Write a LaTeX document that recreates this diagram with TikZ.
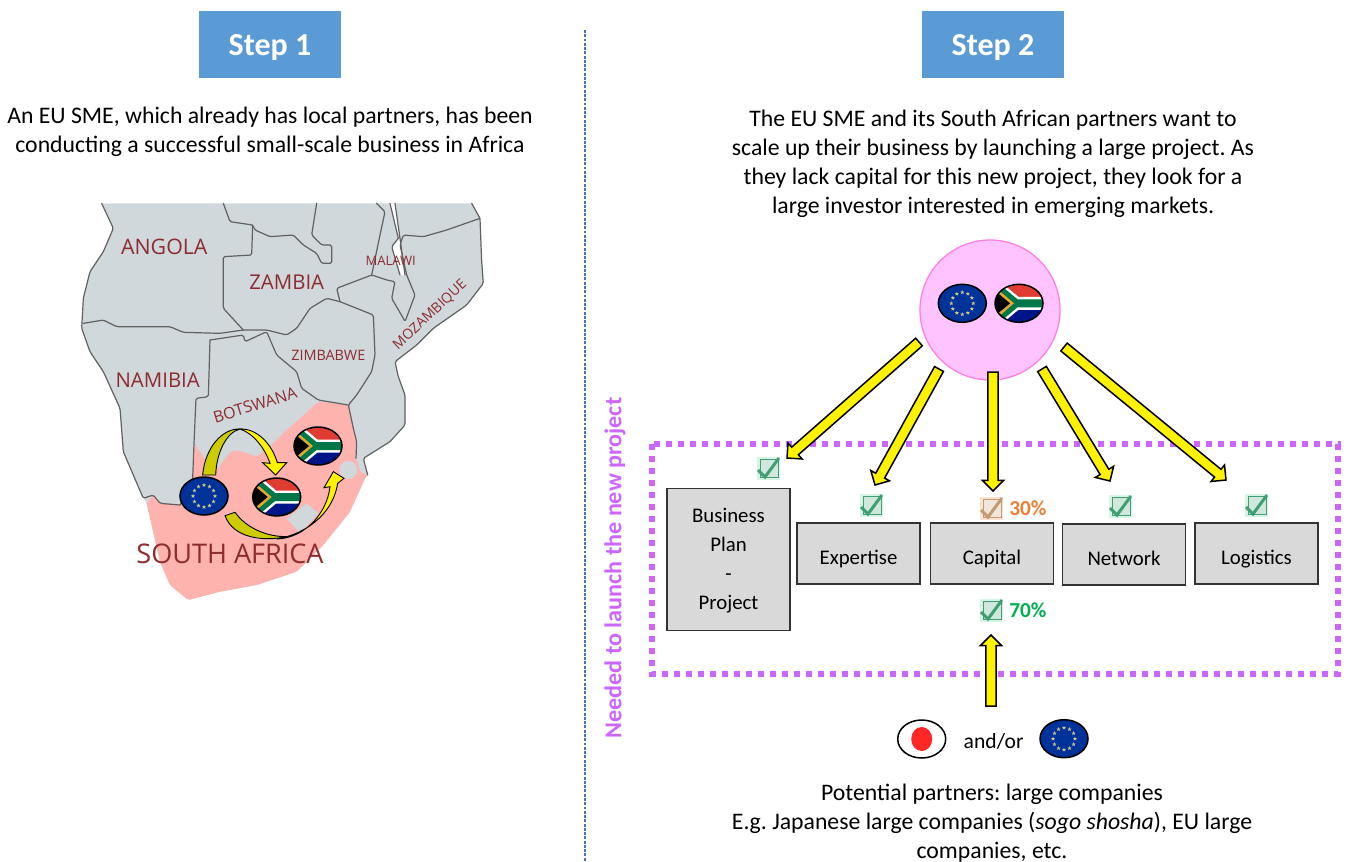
\documentclass[tikz,border=0pt]{standalone}
\usepackage{fontspec}
\setmainfont{Carlito}
\newfontfamily\mapfont{Open Sans}
\usetikzlibrary{calc,shapes.geometric}
\AtBeginDocument{\frenchspacing}
\definecolor{stepblue}{HTML}{5B9BD5}
\definecolor{violetdot}{HTML}{CC66FF}
\definecolor{landgray}{HTML}{D1D8DB}
\definecolor{zapink}{HTML}{FEB3AE}
\definecolor{maptext}{HTML}{8C2B30}
\definecolor{euBlue}{HTML}{003399}
\definecolor{euStar}{HTML}{CFC68A}
\definecolor{zaRed}{HTML}{E03C31}
\definecolor{zaBlue}{HTML}{001489}
\definecolor{zaGreen}{HTML}{007749}
\definecolor{zaGold}{HTML}{E0A82E}
\definecolor{darkyellow}{HTML}{CCCC00}
\definecolor{boxgray}{HTML}{D9D9D9}
\definecolor{poolfill}{HTML}{FFC4FF}
\definecolor{poolline}{HTML}{FF80E0}
\definecolor{okbg}{HTML}{D6F3E4}
\definecolor{okline}{HTML}{3F9F73}
\definecolor{warnbg}{HTML}{F9E2CF}
\definecolor{warnline}{HTML}{C49A70}
\definecolor{pctorange}{HTML}{ED7D31}
\definecolor{pctgreen}{HTML}{00B050}
\definecolor{divider}{HTML}{4472C4}
\newcommand{\lowered}[2]{\raisebox{-#1}[0pt][0pt]{#2}}
\tikzset{
  px/.style={line width=#1*0.75pt},
  stepbox/.style={fill=stepblue,text=white,font=\fontsize{24}{28}\selectfont\bfseries,minimum width=106.5pt,minimum height=50.25pt,inner sep=0pt},
  para/.style={align=center,font=\fontsize{17.8}{21.75}\selectfont,inner sep=0pt},
  needbox/.style={fill=boxgray,draw=black!80,px=1.6,minimum width=92.25pt,minimum height=45.75pt,inner sep=0pt,align=center,font=\fontsize{15.6}{21.75}\selectfont},
  pctlabel/.style={font=\fontsize{16}{19}\selectfont\bfseries,inner sep=0pt,anchor=west},
  flagbase/.style={ellipse,draw=black,px=1.5,minimum width=36pt,minimum height=28.5pt,inner sep=0pt},
  euflag/.style={flagbase,fill=euBlue,path picture={
    \begin{scope}[shift={(path picture bounding box.center)}]
      \foreach \ang in {0,30,...,330}{
        \fill[euStar] (\ang:11) ++(0,-2) -- ++(.6,1.4) -- ++(1.4,0) -- ++(-1.1,.9) -- ++(.4,1.5) -- ++(-1.3,-.9) -- ++(-1.3,.9) -- ++(.4,-1.5) -- ++(-1.1,-.9) -- ++(1.4,0) -- cycle;}
    \end{scope}}},
  zaflag/.style={flagbase,fill=white,path picture={
    \begin{scope}[shift={(path picture bounding box.center)}]
      \fill[zaRed] (-25,-20) rectangle (25,0);
      \fill[zaBlue] (-25,0) rectangle (25,20);
      \draw[white,px=13,line join=miter] (-28,-21) -- (-3,0) -- (-28,21) (-3,0) -- (26,0);
      \draw[zaGreen,px=8,line join=miter] (-28,-21) -- (-3,0) -- (-28,21) (-3,0) -- (26,0);
      \fill[zaGold] (-27,-19) -- (-5,0) -- (-27,19) -- cycle;
      \fill[black] (-27,-15) -- (-9,0) -- (-27,15) -- cycle;
    \end{scope}}},
  jpflag/.style={flagbase,fill=white,path picture={
    \fill[red!85!white] (path picture bounding box.center) ellipse[x radius=10.5,y radius=12];}},
  checkbox/.style 2 args={minimum size=17.25pt,inner sep=0pt,fill=#1,path picture={
    \begin{scope}[shift={(path picture bounding box.center)}]
      \fill[#2!25!white] (-8,-9) rectangle (10,9);
      \draw[#2,px=1] (-8,-9) rectangle (10,9);
      \draw[#2,px=3] (-10,2) -- (-3,9) -- (11,-10);
    \end{scope}}},
  okcheck/.style={checkbox={okbg}{okline}},
  warncheck/.style={checkbox={warnbg}{warnline}},
  blockarrow/.style={draw=black,fill=yellow,px=1.5,line join=miter,to path={
    ($(\tikztotarget)!8pt!(\tikztostart)$) coordinate (hh)
    ($(\tikztostart)!3.8pt!90:(\tikztotarget)$) --
    ($(hh)!3.8pt!90:(\tikztotarget)$) --
    ($(hh)!8pt!90:(\tikztotarget)$) --
    (\tikztotarget) --
    ($(hh)!8pt!-90:(\tikztotarget)$) --
    ($(hh)!3.8pt!-90:(\tikztotarget)$) --
    ($(\tikztostart)!3.8pt!-90:(\tikztotarget)$) -- cycle}},
  maplabel/.style={text=maptext,inner sep=0pt},
  border/.style={draw=black!62,px=1.2,line join=round,line cap=round,rounded corners=1.2pt},
}
\begin{document}
\begin{tikzpicture}[x=0.75pt,y=-0.75pt]
\useasboundingbox (0,0) rectangle (1349,861);

% --- headers and texts
\node[stepbox] (step1) at (270,44.5) {\lowered{8.4pt}{Step 1}};
\node[stepbox] (step2) at (993,44.5) {\lowered{8.4pt}{Step 2}};
\node[para] (txt1) at (270,131.5) {An EU SME, which already has local partners, has been\\conducting a successful small-scale business in Africa};
\node[para] (txt2) at (993,163.5) {The EU SME and its South African partners want to\\scale up their business by launching a large project. As\\they lack capital for this new project, they look for a\\large investor interested in emerging markets.};
\coordinate (divtop) at (585,30);
\coordinate (divbot) at (585,861);
\draw[divider,px=1.2,dash pattern=on 2.2pt off 1pt] (divtop) -- (divbot);

% --- map
\begin{scope}[shift={(70,195)},x=0.25pt,y=-0.25pt]
  \fill[landgray,rounded corners=1.2pt] (95,25) -- (1205,25) -- (1230,70) -- (1235,200) -- (1240,265) -- (1190,330) -- (1090,400) -- (1040,450) -- (975,500) -- (985,545) -- (1005,600) -- (1005,690) -- (960,740) -- (880,790) -- (895,840) -- (885,850) -- (840,950) -- (760,1050) -- (680,1130) -- (560,1170) -- (450,1190) -- (355,1215) -- (300,1170) -- (270,1100) -- (230,925) -- (220,910) -- (160,770) -- (150,640) -- (100,530) -- (60,470) -- (35,400) -- (40,310) -- (60,230) -- (100,170) -- (130,100) -- cycle;
  \fill[white] (960,25) -- (985,130) -- (965,155) -- (990,240) -- (1005,240) -- (990,130) -- (975,25) -- cycle;
  \fill[zapink,rounded corners=1.2pt] (375,745) -- (405,795) -- (440,825) -- (480,772) -- (500,765) -- (560,785) -- (610,745) -- (650,705) -- (690,670) -- (745,620) -- (835,630) -- (850,700) -- (860,740) -- (858,790) -- (870,830) -- (893,840) -- (885,850) -- (840,950) -- (760,1050) -- (680,1130) -- (560,1170) -- (450,1190) -- (355,1215) -- (300,1170) -- (270,1100) -- (230,925) -- (250,900) -- (270,925) -- (330,930) -- (368,850) -- cycle;
  \fill[landgray] (650,970) -- (710,925) -- (745,955) -- (690,1015) -- cycle;
  \fill[landgray] (835,825) circle[radius=27];
  % coast and borders
  \draw[border] (95,25) -- (130,100) -- (100,170) -- (60,230) -- (40,310) -- (35,400) -- (60,470) -- (100,530) -- (150,640) -- (160,770) -- (220,910) -- (250,900) -- (270,925) -- (330,930);
  \draw[border] (1205,25) -- (1230,70) -- (1235,200) -- (1240,265) -- (1190,330) -- (1090,400) -- (1040,450) -- (975,500) -- (985,545) -- (1005,600) -- (1005,690) -- (960,740) -- (880,790) -- (893,840);
  \draw[border] (40,385) -- (100,375) -- (140,395) -- (300,395) -- (340,412) -- (450,415) -- (520,405) -- (590,405) -- (650,420) -- (680,400) -- (720,340) -- (770,310) -- (810,320) -- (910,360) -- (915,480) -- (905,530) -- (860,600) -- (835,630) -- (850,700) -- (860,740) -- (858,790);
  \draw[border] (420,435) -- (415,605) -- (378,610) -- (372,745) -- (368,850) -- (330,930);
  \draw[border] (420,435) -- (520,420) -- (525,440) -- (590,410) -- (620,480) -- (680,530) -- (695,580) -- (745,615) -- (835,630);
  \draw[border] (460,25) -- (480,80) -- (548,90) -- (555,105) -- (600,125) -- (670,120) -- (700,150) -- (740,175) -- (755,205) -- (785,205) -- (785,150) -- (755,150) -- (725,120) -- (740,25);
  \draw[border] (548,90) -- (545,180) -- (460,185) -- (460,340) -- (520,405);
  \draw[border] (810,320) -- (800,280) -- (905,240) -- (950,255) -- (975,260) -- (965,310) -- (1000,370) -- (1005,380) -- (1035,300) -- (1010,240) -- (990,150) -- (1000,120) -- (1060,125) -- (1130,105) -- (1230,70);
  \draw[border] (920,25) -- (945,50) -- (930,120) -- (905,240);
  \draw[border] (985,130) -- (965,155) -- (990,240) (1005,240) -- (990,130) -- (975,25) (960,25) -- (985,130);
\end{scope}
\node[maplabel,font=\mapfont\fontsize{16}{18}\selectfont] (angola) at (164.3,247.3) {ANGOLA};
\node[maplabel,font=\mapfont\fontsize{15.3}{18}\selectfont] (zambia) at (286.7,281.7) {ZAMBIA};
\node[maplabel,font=\mapfont\fontsize{9.8}{11}\selectfont] (malawi) at (390.7,260.7) {MALAWI};
\node[maplabel,font=\mapfont\fontsize{10.5}{12}\selectfont,rotate=43] (mozambique) at (430,315) {MOZAMBIQUE};
\node[maplabel,font=\mapfont\fontsize{10.8}{12}\selectfont] (zimbabwe) at (328.3,355) {ZIMBABWE};
\node[maplabel,font=\mapfont\fontsize{15.3}{18}\selectfont] (namibia) at (157.7,380.3) {NAMIBIA};
\node[maplabel,font=\mapfont\fontsize{12}{14}\selectfont,rotate=17] (botswana) at (255,405) {BOTSWANA};
\node[maplabel,font=\mapfont\fontsize{20.3}{24}\selectfont] (southafrica) at (230,554.3) {SOUTH AFRICA};
% curved arrows on the map
\begin{scope}[shift={(70,195)},x=0.25pt,y=-0.25pt,draw=black,px=0.9,line join=miter]
  \filldraw[fill=darkyellow] (398,840) .. controls (405,760) and (455,700) .. (510,702) .. controls (470,712) and (440,770) .. (437,840) -- cycle;
  \filldraw[fill=yellow] (510,702) .. controls (560,700) and (605,745) .. (622,803) -- (650,803) -- (617,840) -- (578,803) -- (600,805) .. controls (585,760) and (550,715) .. (510,702) -- cycle;
  \filldraw[fill=darkyellow] (465,962) -- (495,952) .. controls (530,1000) and (590,1025) .. (650,1025) .. controls (580,1040) and (490,1030) .. (465,962) -- cycle;
  \filldraw[fill=yellow] (620,1032) .. controls (700,1030) and (770,960) .. (780,875) -- (762,878) -- (790,830) -- (822,850) -- (803,865) .. controls (790,950) and (720,1005) .. (650,1025) -- cycle;
\end{scope}
\node[euflag] (mapeu) at (204,496) {};
\node[zaflag] (mapza1) at (276.7,497) {};
\node[zaflag] (mapza2) at (318,446) {};

% --- right part
\node[ellipse,draw=poolline,px=1.3,fill=poolfill,minimum width=105pt,minimum height=105pt,inner sep=0pt] (pool) at (990,310) {};
\node[euflag] (pooleu) at (962.3,303.3) {};
\node[zaflag] (poolza) at (1019,303.3) {};

\draw[violetdot,px=6,dash pattern=on 4.5pt off 4.5pt] (652,444) rectangle (1338,674);
\node[rotate=90,text=violetdot,font=\fontsize{18.1}{21}\selectfont\bfseries,inner sep=0pt] (needed) at (615,568) {Needed to launch the new project};

\node[needbox,minimum height=106.5pt] (bp) at (728.5,559.5) {\lowered{5.2pt}{Business}\\\lowered{5.2pt}{Plan}\\\lowered{5.2pt}{-}\\\lowered{5.2pt}{Project}};
\node[needbox] (exp) at (858.5,553.5) {\lowered{8.4pt}{Expertise}};
\node[needbox] (cap) at (992,553.5) {\lowered{8.4pt}{Capital}};
\node[needbox] (net) at (1124,554.5) {\lowered{8.4pt}{Network}};
\node[needbox] (log) at (1256.5,553.5) {\lowered{8.4pt}{Logistics}};

\node[okcheck] (c1) at (768,468) {};
\node[okcheck] (c2) at (871,505) {};
\node[warncheck] (c3) at (991,508) {};
\node[okcheck] (c4) at (991,610) {};
\node[okcheck] (c5) at (1120,506) {};
\node[okcheck] (c6) at (1256,505) {};
\node[pctlabel,text=pctorange] (p30) at (1009,508) {30\%};
\node[pctlabel,text=pctgreen] (p70) at (1009,610) {70\%};

\coordinate (t1) at (919,342); \coordinate (h1) at (787,458);
\coordinate (t2) at (939,369); \coordinate (h2) at (875,485);
\coordinate (t3) at (993,372); \coordinate (h3) at (993,491);
\coordinate (t4) at (1042,369); \coordinate (h4) at (1110,481);
\coordinate (t5) at (1064,347); \coordinate (h5) at (1226,480);
\coordinate (t6) at (991,706); \coordinate (h6) at (991,635);
\draw[blockarrow] (t1) to (h1);
\draw[blockarrow] (t2) to (h2);
\draw[blockarrow] (t3) to (h3);
\draw[blockarrow] (t4) to (h4);
\draw[blockarrow] (t5) to (h5);
\draw[blockarrow] (t6) to (h6);

\node[jpflag] (jp) at (921.7,739) {};
\node[font=\fontsize{16.2}{19}\selectfont,inner sep=0pt] (andor) at (993.7,741) {and/or};
\node[euflag] (eu3) at (1064,738.7) {};
\node[para] (txt3) at (992,823) {Potential partners: large companies\\E.g. Japanese large companies (\textit{sogo shosha}), EU large\\companies, etc.};
\end{tikzpicture}
\end{document}
